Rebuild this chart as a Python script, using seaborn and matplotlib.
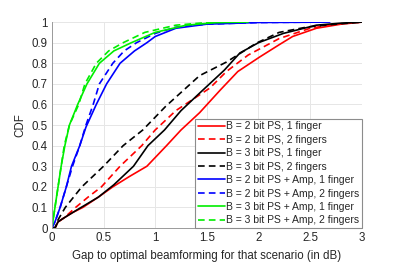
import numpy as np
import pandas as pd
import matplotlib
matplotlib.use("Agg")
import matplotlib.pyplot as plt
import seaborn as sns

# CDF curves (gap in dB, CDF)
labels = [
    "B = 2 bit PS, 1 finger",
    "B = 2 bit PS, 2 fingers",
    "B = 3 bit PS, 1 finger",
    "B = 3 bit PS, 2 fingers",
    "B = 2 bit PS + Amp, 1 finger",
    "B = 2 bit PS + Amp, 2 fingers",
    "B = 3 bit PS + Amp, 1 finger",
    "B = 3 bit PS + Amp, 2 fingers",
]

ps2_1f_x = [0, 0.03, 0.06, 0.12, 0.2, 0.3, 0.45, 0.59, 0.75, 0.92, 1.11, 1.25, 1.43, 1.63, 1.8, 2.01, 2.2, 2.33, 2.56, 2.8, 3.0]
ps2_1f_y = [0, 0, 0.03, 0.05, 0.075, 0.1, 0.15, 0.2, 0.25, 0.3, 0.4, 0.476, 0.56, 0.67, 0.76, 0.83, 0.89, 0.93, 0.97, 0.99, 1.0]

ps2_2f_x = [0, 0.03, 0.06, 0.12, 0.23, 0.35, 0.48, 0.66, 0.87, 1.0, 1.2, 1.53, 1.69, 1.9, 2.2, 2.5, 2.75, 3.0]
ps2_2f_y = [0, 0, 0.03, 0.05, 0.1, 0.15, 0.2, 0.3, 0.4, 0.476, 0.57, 0.68, 0.76, 0.84, 0.92, 0.97, 0.99, 1.0]

ps3_1f_x = [0, 0.03, 0.06, 0.12, 0.25, 0.45, 0.6, 0.79, 0.93, 1.09, 1.25, 1.43, 1.67, 1.82, 2.0, 2.24, 2.56, 2.8, 3.0]
ps3_1f_y = [0, 0, 0.03, 0.05, 0.09, 0.15, 0.21, 0.3, 0.4, 0.476, 0.57, 0.655, 0.767, 0.85, 0.9, 0.945, 0.985, 0.995, 1.0]

ps3_2f_x = [0, 0.03, 0.06, 0.13, 0.29, 0.5, 0.69, 0.88, 1.1, 1.43, 1.69, 1.98, 2.2, 2.47, 2.75, 3.0]
ps3_2f_y = [0, 0, 0.04, 0.1, 0.2, 0.3, 0.4, 0.476, 0.59, 0.74, 0.806, 0.898, 0.95, 0.976, 0.99, 1.0]

amp2_1f_x = [0, 0.03, 0.08, 0.14, 0.19, 0.27, 0.33, 0.43, 0.53, 0.66, 0.8, 0.92, 1.0, 1.2, 1.5, 2.0, 2.69]
amp2_1f_y = [0, 0.03, 0.1, 0.2, 0.3, 0.4, 0.49, 0.6, 0.7, 0.8, 0.86, 0.9, 0.93, 0.97, 0.99, 0.998, 1.0]

amp2_2f_x = [0, 0.03, 0.08, 0.14, 0.2, 0.27, 0.33, 0.4, 0.46, 0.59, 0.7, 0.82, 1.0, 1.2, 1.5, 2.0, 2.6]
amp2_2f_y = [0, 0.03, 0.1, 0.2, 0.3, 0.4, 0.5, 0.6, 0.7, 0.8, 0.86, 0.9, 0.945, 0.975, 0.99, 0.998, 1.0]

amp3_1f_x = [0, 0.03, 0.06, 0.09, 0.126, 0.17, 0.25, 0.34, 0.46, 0.6, 0.77, 1.0, 1.3, 1.6, 1.9]
amp3_1f_y = [0, 0.1, 0.2, 0.3, 0.4, 0.5, 0.6, 0.7, 0.8, 0.86, 0.9, 0.95, 0.985, 0.998, 1.0]

amp3_2f_x = [0, 0.03, 0.06, 0.09, 0.12, 0.17, 0.26, 0.32, 0.43, 0.55, 0.69, 0.9, 1.2, 1.5, 1.8]
amp3_2f_y = [0, 0.1, 0.2, 0.3, 0.4, 0.5, 0.6, 0.7, 0.8, 0.86, 0.9, 0.95, 0.985, 0.998, 1.0]

series_x = [ps2_1f_x, ps2_2f_x, ps3_1f_x, ps3_2f_x, amp2_1f_x, amp2_2f_x, amp3_1f_x, amp3_2f_x]
series_y = [ps2_1f_y, ps2_2f_y, ps3_1f_y, ps3_2f_y, amp2_1f_y, amp2_2f_y, amp3_1f_y, amp3_2f_y]

colors = ["#ff0000", "#ff0000", "#000000", "#000000", "#0000ff", "#0000ff", "#00ee00", "#00ee00"]

x_ticks = [0, 0.5, 1, 1.5, 2, 2.5, 3]
y_ticks = [0, 0.1, 0.2, 0.3, 0.4, 0.5, 0.6, 0.7, 0.8, 0.9, 1]

frames = []
for lab, xs, ys in zip(labels, series_x, series_y):
    frames.append(pd.DataFrame({"gap": xs, "cdf": ys, "scheme": lab}))
df = pd.concat(frames, ignore_index=True)

sns.set_theme(style="whitegrid")
plt.rcParams["font.family"] = ["Liberation Sans", "DejaVu Sans"]

fig = plt.figure(figsize=(4.02, 2.63), dpi=100)
ax = fig.add_axes([0.129, 0.133, 0.771, 0.783])

palette = dict(zip(labels, colors))
dashes = {lab: ("" if i % 2 == 0 else (4, 2.5)) for i, lab in enumerate(labels)}

sns.lineplot(
    data=df, x="gap", y="cdf",
    hue="scheme", style="scheme",
    hue_order=labels, style_order=labels,
    palette=palette, dashes=dashes,
    estimator=None, sort=False,
    linewidth=1.2, ax=ax,
)

ax.set_xlim(0, 3)
ax.set_ylim(0, 1)
ax.set_xticks(x_ticks)
ax.set_yticks(y_ticks)
ax.set_xticklabels([f"{v:g}" for v in x_ticks])
ax.set_yticklabels([f"{v:g}" for v in y_ticks])
ax.tick_params(labelsize=8.3, colors="#262626", length=0, pad=3)

ax.set_xlabel("Gap to optimal beamforming for that scenario (in dB)", fontsize=8.3, color="#262626", labelpad=4)
ax.set_ylabel("CDF", fontsize=8.3, color="#262626", labelpad=4)

ax.grid(True, color="#e6e6e6", linewidth=0.7)
ax.set_facecolor("white")
for side in ["top", "right"]:
    ax.spines[side].set_visible(False)
for side in ["left", "bottom"]:
    ax.spines[side].set_color("#9a9a9a")
    ax.spines[side].set_linewidth(0.7)

leg = ax.legend(
    loc="lower right", fontsize=7.5, frameon=True, fancybox=False,
    borderaxespad=0, handlelength=2.6, handletextpad=0.1,
    labelspacing=0.33, borderpad=0.25,
)
leg.get_frame().set_edgecolor("#8c8c8c")
leg.get_frame().set_linewidth(0.8)
leg.get_frame().set_alpha(1)

fig.savefig("out.png", dpi=100)
